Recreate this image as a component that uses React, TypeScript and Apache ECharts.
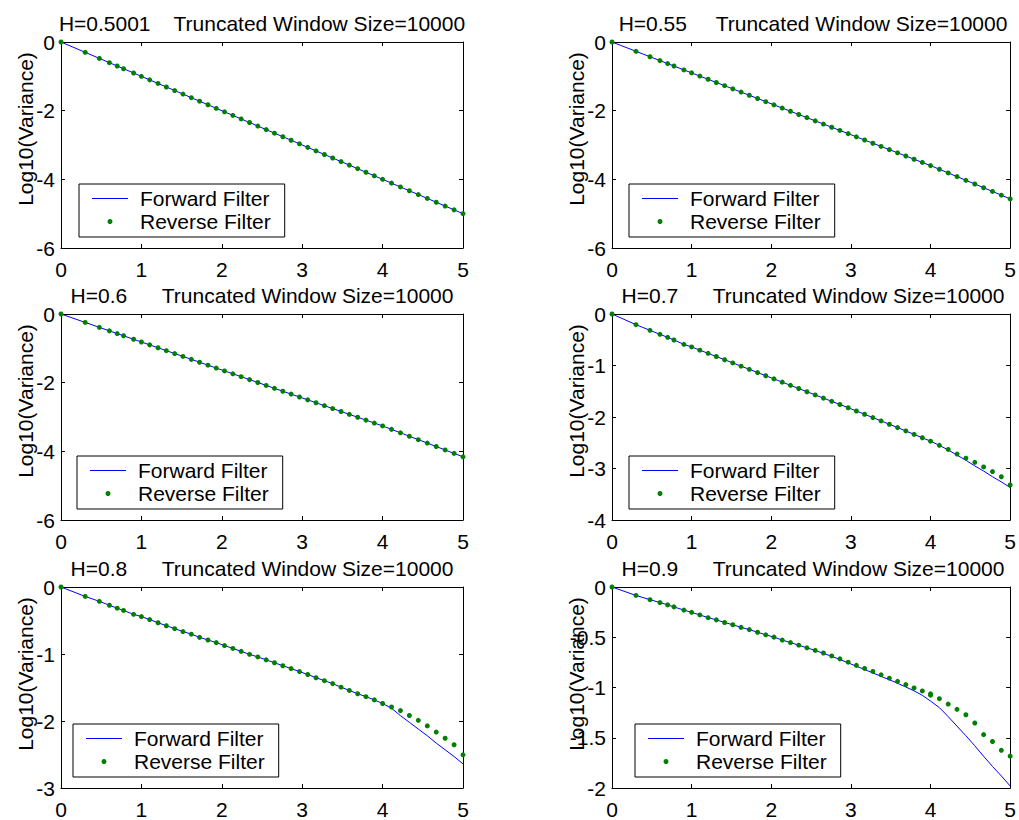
import React, { useEffect, useRef } from "react";
import * as echarts from "echarts";

// log10(lag) positions shared by all panels
const X = [
  0, 0.301, 0.477, 0.602, 0.699, 0.778, 0.903, 1.0,
  1.103, 1.207, 1.31, 1.414, 1.517, 1.621, 1.724, 1.828, 1.931, 2.034,
  2.138, 2.241, 2.345, 2.448, 2.552, 2.655, 2.759, 2.862, 2.966, 3.069,
  3.172, 3.276, 3.379, 3.483, 3.586, 3.69, 3.793, 3.897, 4.0,
  4.111, 4.222, 4.333, 4.444, 4.556, 4.667, 4.778, 4.889, 5.0,
];

const Y_H05001 = [
  0, -0.301, -0.477, -0.602, -0.699, -0.778, -0.903, -1.0,
  -1.103, -1.207, -1.31, -1.414, -1.517, -1.621, -1.724, -1.828, -1.931, -2.034,
  -2.138, -2.241, -2.345, -2.448, -2.552, -2.655, -2.759, -2.862, -2.966, -3.069,
  -3.172, -3.276, -3.379, -3.483, -3.586, -3.69, -3.793, -3.897, -4.0,
  -4.111, -4.222, -4.333, -4.444, -4.556, -4.667, -4.778, -4.889, -5.0,
];

const Y_H055 = [
  0, -0.271, -0.429, -0.542, -0.629, -0.7, -0.813, -0.9,
  -0.993, -1.086, -1.179, -1.273, -1.365, -1.459, -1.552, -1.645, -1.738, -1.831,
  -1.924, -2.017, -2.111, -2.203, -2.297, -2.39, -2.483, -2.576, -2.669, -2.762,
  -2.855, -2.948, -3.041, -3.135, -3.227, -3.321, -3.414, -3.507, -3.6,
  -3.707, -3.814, -3.921, -4.028, -4.136, -4.244, -4.352, -4.461, -4.57,
];

const Y_H06 = [
  0, -0.245, -0.389, -0.491, -0.57, -0.634, -0.736, -0.815,
  -0.899, -0.984, -1.068, -1.152, -1.236, -1.321, -1.405, -1.49, -1.574, -1.658,
  -1.742, -1.826, -1.911, -1.995, -2.08, -2.164, -2.249, -2.333, -2.417, -2.501,
  -2.585, -2.67, -2.754, -2.839, -2.923, -3.007, -3.091, -3.176, -3.26,
  -3.36, -3.46, -3.56, -3.66, -3.76, -3.86, -3.96, -4.06, -4.16,
];

const Y_H07_FWD = [
  0, -0.207, -0.317, -0.395, -0.453, -0.505, -0.589, -0.64,
  -0.702, -0.764, -0.826, -0.888, -0.95, -1.013, -1.074, -1.137, -1.199, -1.26,
  -1.323, -1.385, -1.447, -1.509, -1.571, -1.633, -1.695, -1.757, -1.82, -1.883,
  -1.947, -2.012, -2.076, -2.141, -2.206, -2.271, -2.337, -2.403, -2.47,
  -2.55, -2.64, -2.74, -2.84, -2.95, -3.05, -3.16, -3.26, -3.37,
];
const Y_H07_REV = [
  0, -0.207, -0.317, -0.395, -0.453, -0.505, -0.589, -0.64,
  -0.702, -0.764, -0.826, -0.888, -0.95, -1.013, -1.074, -1.137, -1.199, -1.26,
  -1.323, -1.385, -1.447, -1.509, -1.571, -1.633, -1.695, -1.757, -1.82, -1.883,
  -1.947, -2.012, -2.076, -2.141, -2.206, -2.271, -2.337, -2.403, -2.47,
  -2.55, -2.63, -2.72, -2.8, -2.88, -2.97, -3.06, -3.16, -3.32,
];

const Y_H08_FWD = [
  0, -0.141, -0.214, -0.272, -0.316, -0.35, -0.408, -0.442,
  -0.486, -0.534, -0.578, -0.622, -0.665, -0.704, -0.752, -0.791, -0.83, -0.874,
  -0.917, -0.961, -1.005, -1.044, -1.087, -1.131, -1.175, -1.218, -1.262, -1.306,
  -1.354, -1.398, -1.442, -1.495, -1.544, -1.593, -1.637, -1.685, -1.739,
  -1.81, -1.92, -2.02, -2.12, -2.22, -2.33, -2.43, -2.53, -2.64,
];
const Y_H08_REV = [
  0, -0.141, -0.214, -0.272, -0.316, -0.35, -0.408, -0.442,
  -0.486, -0.534, -0.578, -0.622, -0.665, -0.704, -0.752, -0.791, -0.83, -0.874,
  -0.917, -0.961, -1.005, -1.044, -1.087, -1.131, -1.175, -1.218, -1.262, -1.306,
  -1.354, -1.398, -1.442, -1.495, -1.544, -1.593, -1.637, -1.685, -1.739,
  -1.791, -1.845, -1.918, -1.99, -2.073, -2.165, -2.257, -2.355, -2.505,
];

const Y_H09_FWD = [
  0, -0.084, -0.126, -0.155, -0.178, -0.198, -0.23, -0.252,
  -0.278, -0.305, -0.327, -0.353, -0.376, -0.402, -0.424, -0.45, -0.476, -0.499,
  -0.528, -0.553, -0.579, -0.605, -0.632, -0.66, -0.69, -0.721, -0.755, -0.788,
  -0.821, -0.855, -0.889, -0.923, -0.958, -0.995, -1.033, -1.078, -1.135,
  -1.2, -1.29, -1.385, -1.48, -1.58, -1.685, -1.785, -1.88, -1.98,
];
const Y_H09_REV = [
  0, -0.084, -0.126, -0.155, -0.178, -0.198, -0.23, -0.252,
  -0.278, -0.305, -0.327, -0.353, -0.376, -0.402, -0.424, -0.45, -0.476, -0.499,
  -0.528, -0.553, -0.579, -0.605, -0.631, -0.657, -0.686, -0.715, -0.748, -0.78,
  -0.81, -0.84, -0.874, -0.907, -0.939, -0.971, -1.004, -1.034, -1.063,
  -1.111, -1.165, -1.217, -1.271, -1.353, -1.469, -1.537, -1.625, -1.683,
];
// second reverse-filter sample at the truncation point (H=0.9)
const H09_EXTRA_X = [4.0];
const H09_EXTRA_Y = [-1.076];

const TITLES = [
  "H=0.5001    Truncated Window Size=10000",
  "H=0.55     Truncated Window Size=10000",
  "H=0.6      Truncated Window Size=10000",
  "H=0.7      Truncated Window Size=10000",
  "H=0.8      Truncated Window Size=10000",
  "H=0.9      Truncated Window Size=10000",
];
const FWD = [Y_H05001, Y_H055, Y_H06, Y_H07_FWD, Y_H08_FWD, Y_H09_FWD];
const REV = [Y_H05001, Y_H055, Y_H06, Y_H07_REV, Y_H08_REV, Y_H09_REV];
const Y_MIN = [-6, -6, -6, -4, -3, -2];
const Y_INTERVAL = [2, 2, 2, 1, 1, 0.5];
const X_TICKS = { min: 0, max: 5, interval: 1 };
const Y_NAME = "Log10(Variance)";
const SERIES_NAMES = ["Forward Filter", "Reverse Filter"];

// layout (styles only)
const PLOT_W = 402;
const PLOT_H = 206;
const LAYOUT = [
  { left: 61, top: 42, lgLeft: 79, lgTop: 184 },
  { left: 612, top: 42, lgLeft: 629, lgTop: 184 },
  { left: 61, top: 314, lgLeft: 77, lgTop: 456 },
  { left: 612, top: 314, lgLeft: 629, lgTop: 456 },
  { left: 61, top: 587, lgLeft: 73, lgTop: 724 },
  { left: 612, top: 587, lgLeft: 635, lgTop: 724 },
];
const FONT = '"Liberation Sans", Arial, Helvetica, sans-serif';
const FS = 21;
const BLUE = "#0000ff";
const GREEN = "#008000";

export default function App() {
  const ref = useRef<HTMLDivElement>(null);

  useEffect(() => {
    if (!ref.current) return;
    document.body.style.margin = "0";
    const chart = echarts.init(ref.current, undefined, { renderer: "svg" });

    const grid: any[] = [];
    const xAxis: any[] = [];
    const yAxis: any[] = [];
    const series: any[] = [];
    const legend: any[] = [];
    const graphic: any[] = [];

    const black = { color: "#000", width: 1 };

    LAYOUT.forEach((L, i) => {
      grid.push({ left: L.left, top: L.top, width: PLOT_W, height: PLOT_H, containLabel: false });
      const xBase = {
        gridIndex: i,
        type: "value",
        min: X_TICKS.min,
        max: X_TICKS.max,
        interval: X_TICKS.interval,
        axisLine: { show: true, onZero: false, lineStyle: black },
        axisTick: { show: true, inside: true, length: 4, lineStyle: black },
        splitLine: { show: false },
      };
      xAxis.push({
        ...xBase,
        position: "bottom",
        axisLabel: { show: true, color: "#000", fontSize: FS, fontFamily: FONT, margin: 11 },
      });
      xAxis.push({ ...xBase, position: "top", axisLabel: { show: false } });

      const yBase = {
        gridIndex: i,
        type: "value",
        min: Y_MIN[i],
        max: 0,
        interval: Y_INTERVAL[i],
        axisLine: { show: true, onZero: false, lineStyle: black },
        axisTick: { show: true, inside: true, length: 4, lineStyle: black },
        splitLine: { show: false },
      };
      yAxis.push({
        ...yBase,
        position: "left",
        axisLabel: { show: true, color: "#000", fontSize: FS, fontFamily: FONT, margin: 6 },
      });
      yAxis.push({ ...yBase, position: "right", axisLabel: { show: false } });

      const fwd = FWD[i];
      const rev = REV[i];
      const revData = X.map((x, k) => [x, rev[k]]);
      if (i === 5) {
        H09_EXTRA_X.forEach((x, k) => revData.push([x, H09_EXTRA_Y[k]]));
      }
      series.push({
        type: "line",
        name: SERIES_NAMES[0],
        xAxisIndex: 2 * i,
        yAxisIndex: 2 * i,
        data: X.map((x, k) => [x, fwd[k]]),
        symbol: "none",
        showSymbol: false,
        lineStyle: { color: BLUE, width: 1 },
        itemStyle: { color: BLUE },
        z: 2,
      });
      series.push({
        type: "scatter",
        name: SERIES_NAMES[1],
        xAxisIndex: 2 * i,
        yAxisIndex: 2 * i,
        data: revData,
        symbol: "circle",
        symbolSize: 5,
        itemStyle: { color: GREEN, opacity: 1 },
        z: 3,
      });

      legend.push({
        show: true,
        orient: "vertical",
        left: L.lgLeft,
        top: L.lgTop,
        data: [
          {
            name: SERIES_NAMES[0],
            icon: "path://M0,0H36V1.2H0Z",
            itemStyle: { color: BLUE, borderWidth: 0, opacity: 1 },
          },
          { name: SERIES_NAMES[1], itemStyle: { color: GREEN, borderWidth: 0, opacity: 1 } },
        ],
        itemWidth: 36,
        itemHeight: 5,
        itemGap: 0,
        padding: [3, 14, 4, 13],
        borderColor: "#000",
        borderWidth: 1,
        borderRadius: 0,
        backgroundColor: "#fff",
        selectedMode: false,
        textStyle: { color: "#000", fontSize: FS, fontFamily: FONT, lineHeight: 23, padding: [0, 0, 0, 7] },
      });

      graphic.push({
        type: "text",
        x: L.left + PLOT_W / 2,
        y: L.top - 19,
        style: {
          text: TITLES[i],
          fill: "#000",
          fontSize: FS,
          fontFamily: FONT,
          align: "center",
          verticalAlign: "middle",
        },
      });
      graphic.push({
        type: "text",
        x: L.left - 36,
        y: L.top + PLOT_H / 2 - 16,
        rotation: Math.PI / 2,
        style: {
          text: Y_NAME,
          fill: "#000",
          fontSize: FS,
          fontFamily: FONT,
          align: "center",
          verticalAlign: "middle",
        },
      });
    });

    chart.setOption({
      animation: false,
      backgroundColor: "#fff",
      grid,
      xAxis,
      yAxis,
      series,
      legend,
      graphic,
      tooltip: { show: false },
    });

    return () => chart.dispose();
  }, []);

  return <div ref={ref} style={{ width: 1019, height: 820, background: "#fff" }} />;
}
